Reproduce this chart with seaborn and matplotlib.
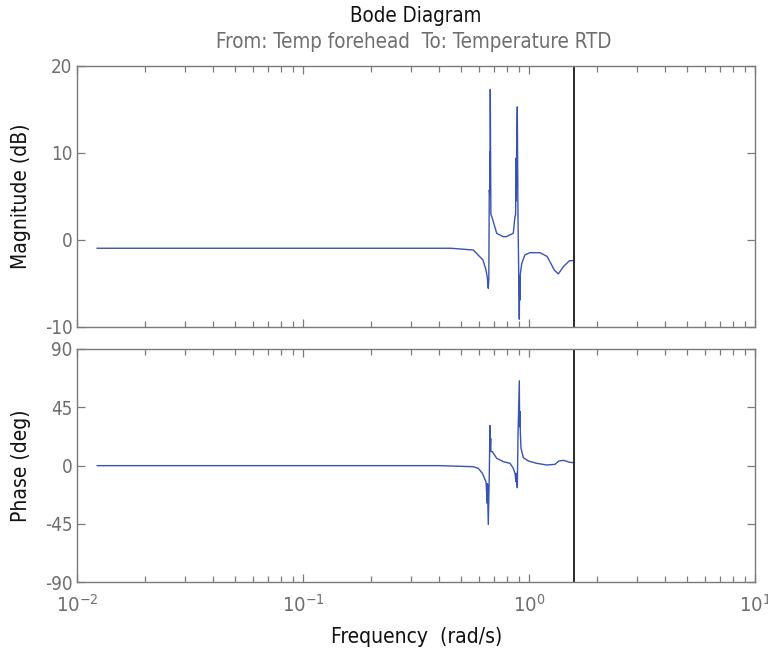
import numpy as np
import pandas as pd
import matplotlib
matplotlib.use("Agg")
import matplotlib.pyplot as plt
import matplotlib.ticker as mticker
import seaborn as sns

# Magnitude response (rad/s, dB)
mag_freq = [0.01222, 0.30, 0.45, 0.5653, 0.6238, 0.6432, 0.6518, 0.6584,
            0.6620, 0.6652, 0.6690, 0.6700, 0.6710, 0.6720, 0.6740, 0.6760,
            0.6859, 0.7174, 0.7674, 0.7900, 0.8495, 0.8643, 0.8700, 0.8733,
            0.8760, 0.8790, 0.8849, 0.8913, 0.9032, 0.9060, 0.9095, 0.9120,
            0.9256, 0.9572, 1.0072, 1.1150, 1.2000, 1.2900, 1.3437, 1.4144,
            1.5031, 1.5708]
mag_db = [-0.95, -0.95, -0.95, -1.15, -2.3, -3.45, -4.3, -5.55,
          -4.5, 5.75, 5.2, 10.15, 6.0, 17.3, 10.15, 3.0,
          2.5, 0.77, 0.38, 0.38, 0.77, 2.7, 2.9, 9.4,
          4.5, 10.5, 15.3, 2.5, -9.1, -4.2, -6.9, -4.0,
          -2.7, -1.7, -1.46, -1.46, -1.9, -3.45, -3.9, -3.07,
          -2.4, -2.35]

# Phase response (rad/s, deg)
ph_freq = [0.01222, 0.40, 0.5653, 0.5947, 0.6200, 0.6432, 0.6518, 0.6530,
           0.6584, 0.6652, 0.6699, 0.6720, 0.6748, 0.6760, 0.6859, 0.7174,
           0.7674, 0.8215, 0.8495, 0.8643, 0.8733, 0.8760, 0.8849, 0.8913,
           0.9032, 0.9060, 0.9095, 0.9130, 0.9190, 0.9408, 0.9899, 1.0783,
           1.1940, 1.2990, 1.3500, 1.4190, 1.5080, 1.5708]
ph_deg = [0.0, 0.0, -0.8, -2.1, -5.9, -12.4, -29.1, -14.0,
          -45.4, -7.2, 30.9, 14.0, 21.1, 10.8, 10.8, 5.7,
          3.1, 1.8, -2.1, -5.9, -12.4, -6.0, -17.0, 23.7,
          65.5, 30.0, 41.8, 25.0, 13.4, 6.2, 3.6, 1.8,
          0.5, 1.0, 3.6, 4.1, 2.6, 2.3]

nyquist = np.pi / 2
mag_ticks = [-10, 0, 10, 20]
ph_ticks = [-90, -45, 0, 45, 90]

sns.set_style("ticks")
plt.rcParams["font.family"] = ["DejaVu Sans"]
plt.rcParams["font.stretch"] = "condensed"
plt.rcParams["axes.unicode_minus"] = False
plt.rcParams["mathtext.fontset"] = "custom"
plt.rcParams["mathtext.rm"] = "DejaVu Sans:stretch=condensed"
plt.rcParams["mathtext.it"] = "DejaVu Sans:stretch=condensed"

line_color = "#3953b3"
frame_color = "#7a7a7a"
text_gray = "#6e6e6e"

fig = plt.figure(figsize=(7.68, 6.57), dpi=100)
ax_m = fig.add_axes([77.3 / 768, 1 - 327 / 657, 678 / 768, 261 / 657])
ax_p = fig.add_axes([77.3 / 768, 1 - 582.3 / 657, 678 / 768, 233.3 / 657], sharex=ax_m)

mag_df = pd.DataFrame({"freq": mag_freq, "mag": mag_db})
ph_df = pd.DataFrame({"freq": ph_freq, "phase": ph_deg})

sns.lineplot(data=mag_df, x="freq", y="mag", sort=False, estimator=None,
             color=line_color, lw=1.0, ax=ax_m)
sns.lineplot(data=ph_df, x="freq", y="phase", sort=False, estimator=None,
             color=line_color, lw=1.0, ax=ax_p)

for ax in (ax_m, ax_p):
    ax.axvline(nyquist, color="#1a1a1a", lw=1.3)
    ax.set_xscale("log")
    ax.set_xlim(1e-2, 1e1)
    for sp in ax.spines.values():
        sp.set_visible(True)
        sp.set_color(frame_color)
        sp.set_linewidth(1.0)
    ax.tick_params(which="both", direction="in", top=True, right=True,
                   colors=frame_color, labelcolor=text_gray, labelsize=13.5)
    ax.tick_params(which="major", length=6, width=0.9)
    ax.tick_params(which="minor", length=4, width=0.9)
    ax.xaxis.set_minor_locator(mticker.LogLocator(base=10, subs=np.arange(2, 10)))
    ax.set_xlabel("")
    ax.set_ylabel("")

ax_m.set_ylim(-10, 20)
ax_m.set_yticks(mag_ticks)
ax_m.tick_params(axis="x", labelbottom=False)
ax_p.set_ylim(-90, 90)
ax_p.set_yticks(ph_ticks)
ax_p.set_xticks([1e-2, 1e-1, 1e0, 1e1])
ax_p.set_xticklabels([r"$10^{-2}$", r"$10^{-1}$", r"$10^{0}$", r"$10^{1}$"])
ax_p.tick_params(axis="x", pad=8, labelsize=14.5)

ax_m.set_ylabel("Magnitude (dB)", fontsize=15, color="#111111")
ax_p.set_ylabel("Phase (deg)", fontsize=15, color="#111111")
ax_m.yaxis.set_label_coords(-46 / 678, 0.5)
ax_p.yaxis.set_label_coords(-46 / 678, 0.5)
ax_p.set_xlabel("Frequency  (rad/s)", fontsize=15, color="#111111")
ax_p.xaxis.set_label_coords(0.5, -45 / 233.3)

fig.text(416 / 768, 1 - 16 / 657, "Bode Diagram", ha="center", va="center",
         fontsize=14.8, color="#111111")
fig.text(414 / 768, 1 - 42 / 657, "From: Temp forehead  To: Temperature RTD",
         ha="center", va="center", fontsize=14.8, color=text_gray)

fig.savefig("out.png", dpi=100, facecolor="white")
